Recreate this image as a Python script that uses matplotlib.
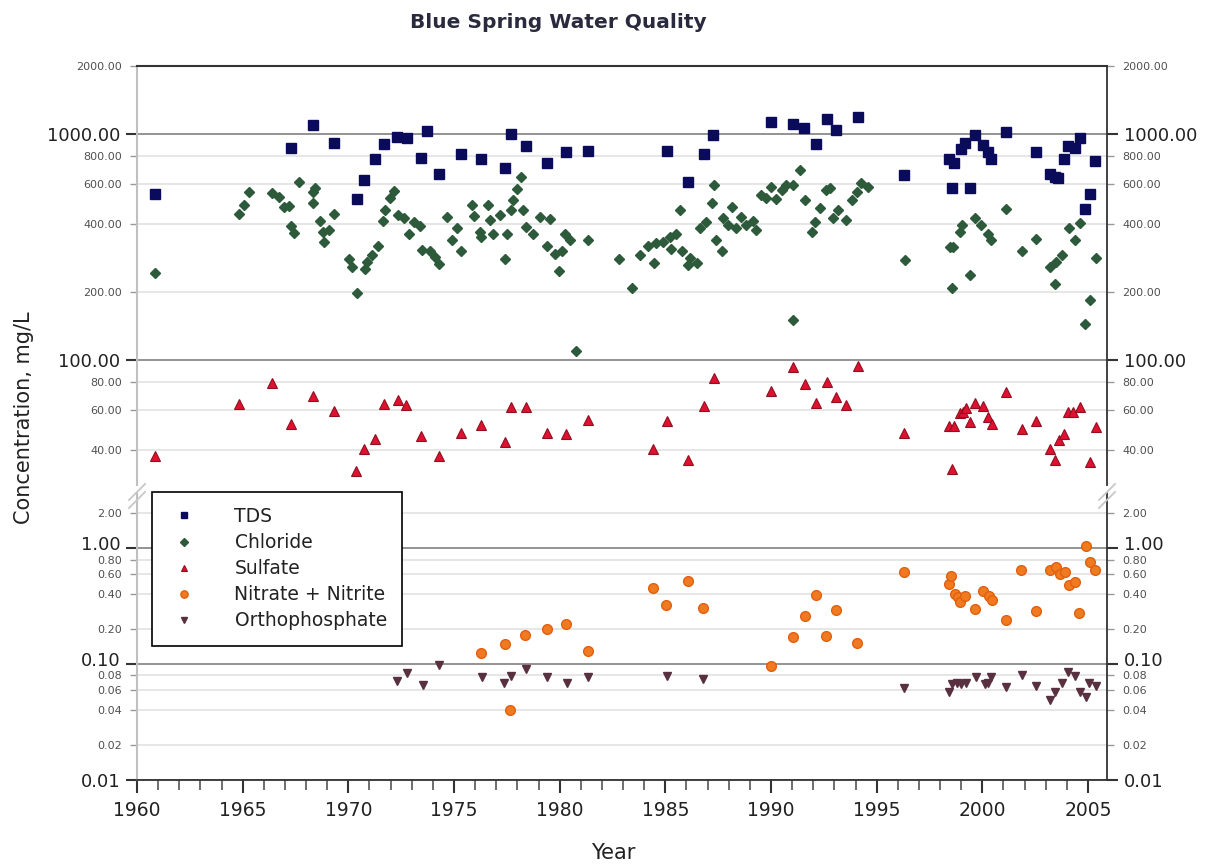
import matplotlib
matplotlib.use("Agg")
import matplotlib.pyplot as plt
import matplotlib.transforms as mtransforms
from matplotlib.ticker import FixedLocator, FuncFormatter, MultipleLocator, NullFormatter
from matplotlib.lines import Line2D

# ---- data (year, mg/L) ----
tds_year = [1960.84, 1967.28, 1968.33, 1969.30, 1970.40, 1970.75, 1971.27, 1971.67, 1972.30, 1972.77,
            1973.43, 1973.72, 1974.30, 1975.34, 1976.30, 1977.40, 1977.68, 1978.40, 1979.38, 1980.29,
            1981.32, 1985.09, 1986.08, 1986.81, 1987.26, 1989.99, 1991.05, 1991.57, 1992.12, 1992.65,
            1993.10, 1994.12, 1996.28, 1998.41, 1998.65, 1998.57, 1999.00, 1999.17, 1999.40, 1999.67,
            2000.03, 2000.27, 2000.43, 2001.14, 2002.53, 2003.22, 2003.43, 2003.58, 2003.85, 2004.05,
            2004.37, 2004.60, 2004.84, 2005.11, 2005.32]
tds_val = [541, 870, 1096, 915, 517, 624, 775, 900, 973, 963,
           786, 1034, 663, 813, 775, 705, 997, 888, 746, 835,
           841, 841, 613, 813, 990, 1133, 1107, 1060, 900, 1165,
           1041, 1185, 659, 773, 742, 575, 856, 910, 575, 990,
           894, 835, 775, 1024, 830, 663, 647, 636, 775, 885,
           870, 963, 464, 541, 762]

cl_year = [1960.84, 1964.81, 1965.08, 1965.31, 1966.39, 1966.70, 1966.94, 1967.17, 1967.28, 1967.44,
           1967.65, 1968.33, 1968.43, 1968.33, 1968.64, 1968.80, 1968.83, 1969.07, 1969.33, 1970.01,
           1970.17, 1970.41, 1970.77, 1970.88, 1971.12, 1971.39, 1971.64, 1971.75, 1971.98, 1972.17,
           1972.33, 1972.62, 1972.85, 1973.09, 1973.40, 1973.48, 1973.87, 1974.11, 1974.27, 1974.66,
           1974.90, 1975.14, 1975.34, 1975.83, 1975.94, 1976.23, 1976.30, 1976.62, 1976.70, 1976.85,
           1977.17, 1977.40, 1977.51, 1977.68, 1977.80, 1977.99, 1978.15, 1978.25, 1978.40, 1978.72,
           1979.06, 1979.38, 1979.54, 1979.77, 1979.96, 1980.09, 1980.25, 1980.49, 1980.77, 1981.35,
           1982.80, 1983.43, 1983.79, 1984.16, 1984.45, 1984.58, 1984.90, 1985.21, 1985.29, 1985.50,
           1985.69, 1985.81, 1986.08, 1986.16, 1986.50, 1986.63, 1986.92, 1987.21, 1987.29, 1987.42,
           1987.66, 1987.73, 1987.97, 1988.17, 1988.36, 1988.60, 1988.84, 1989.15, 1989.31, 1989.55,
           1989.78, 1990.02, 1990.26, 1990.50, 1990.73, 1991.04, 1991.36, 1991.60, 1991.92, 1992.07,
           1992.31, 1992.62, 1992.78, 1992.94, 1993.17, 1993.57, 1993.81, 1994.05, 1994.28, 1994.60,
           1991.04, 1996.33, 1998.46, 1998.61, 1998.57, 1998.93, 1999.06, 1999.40, 1999.64, 1999.95,
           2000.27, 2000.43, 2001.14, 2001.90, 2002.53, 2003.22, 2003.43, 2003.50, 2003.79, 2004.10,
           2004.37, 2004.60, 2005.11, 2004.88, 2005.36]
cl_val = [243, 443, 485, 555, 546, 525, 474, 480, 391, 366,
          615, 555, 575, 494, 413, 370, 334, 376, 443, 279,
          259, 197, 254, 272, 291, 320, 413, 461, 520, 561,
          438, 423, 362, 409, 391, 307, 303, 286, 266, 431,
          340, 382, 303, 485, 434, 370, 349, 485, 416, 362,
          438, 279, 362, 461, 510, 569, 643, 461, 389, 362,
          431, 320, 419, 295, 249, 303, 362, 340, 110, 340,
          279, 208, 291, 320, 268, 328, 334, 349, 310, 360,
          461, 305, 263, 282, 268, 382, 409, 494, 595, 340,
          303, 423, 396, 474, 382, 431, 396, 413, 376, 537,
          520, 585, 515, 565, 595, 595, 693, 510, 370, 409,
          469, 565, 575, 423, 461, 416, 510, 555, 605, 581,
          150, 277, 317, 317, 209, 370, 396, 238, 423, 396,
          362, 340, 464, 305, 343, 259, 218, 272, 291, 382,
          340, 402, 184, 144, 284]

so4_year = [1960.84, 1964.81, 1966.39, 1967.28, 1968.33, 1969.33, 1970.37, 1970.75, 1971.27, 1971.67,
            1972.33, 1972.74, 1973.43, 1974.30, 1975.34, 1976.30, 1977.40, 1977.68, 1978.40, 1979.38,
            1980.29, 1981.35, 1984.42, 1985.09, 1986.08, 1986.81, 1987.29, 1990.02, 1991.05, 1991.60,
            1992.12, 1992.65, 1993.10, 1993.57, 1994.12, 1996.30, 1998.41, 1998.57, 1998.65, 1998.93,
            1999.09, 1999.21, 1999.40, 1999.67, 2000.03, 2000.27, 2000.46, 2001.14, 2001.88, 2002.53,
            2003.22, 2003.45, 2003.61, 2003.85, 2004.05, 2004.29, 2004.60, 2005.11, 2005.36]
so4_val = [37.5, 64.2, 78.8, 52.3, 69.3, 59.4, 32.3, 40.6, 44.8, 64.2,
           66.9, 63.2, 46.2, 37.5, 47.8, 51.8, 43.5, 62.1, 61.7, 47.8,
           47.3, 54.2, 40.4, 53.8, 36.2, 62.5, 83.4, 72.6, 93.4, 78.0,
           64.6, 80.0, 68.4, 63.2, 94.4, 47.8, 51.0, 33.0, 51.0, 58.1,
           59.1, 61.2, 53.3, 64.6, 62.5, 56.0, 52.3, 72.2, 49.4, 53.8,
           40.4, 36.2, 44.2, 47.0, 58.8, 59.1, 62.1, 35.4, 50.7]

no3_year = [1976.30, 1977.40, 1977.64, 1978.35, 1979.38, 1980.28, 1981.35, 1984.42, 1985.05, 1986.08,
            1986.76, 1990.02, 1991.05, 1991.60, 1992.12, 1992.62, 1993.07, 1994.07, 1996.28, 1998.42,
            1998.53, 1998.69, 1998.85, 1998.93, 1999.17, 1999.67, 2000.03, 2000.31, 2000.47, 2001.14,
            2001.85, 2002.53, 2003.22, 2003.47, 2003.66, 2003.90, 2004.10, 2004.37, 2004.57, 2004.89,
            2005.08, 2005.32]
no3_val = [0.124, 0.148, 0.040, 0.180, 0.203, 0.220, 0.130, 0.458, 0.322, 0.523,
           0.306, 0.097, 0.172, 0.259, 0.394, 0.174, 0.296, 0.151, 0.625, 0.490,
           0.574, 0.401, 0.381, 0.345, 0.386, 0.302, 0.428, 0.386, 0.361, 0.240,
           0.646, 0.288, 0.655, 0.690, 0.605, 0.625, 0.480, 0.512, 0.279, 1.05,
           0.762, 0.646]

po4_year = [1972.31, 1972.76, 1973.55, 1974.30, 1976.33, 1977.37, 1977.69, 1978.40, 1979.38, 1980.33,
            1981.35, 1985.09, 1986.79, 1996.30, 1998.43, 1998.58, 1998.80, 1999.00, 1999.21, 1999.69,
            2000.11, 2000.27, 2000.43, 2001.14, 2001.90, 2002.53, 2003.22, 2003.43, 2003.79, 2004.05,
            2004.37, 2004.60, 2004.89, 2005.05, 2005.36]
po4_val = [0.0714, 0.0831, 0.066, 0.0983, 0.0775, 0.0683, 0.0786, 0.090, 0.0775, 0.0683,
           0.0775, 0.0786, 0.0740, 0.0618, 0.058, 0.0673, 0.0683, 0.0673, 0.0683, 0.0775,
           0.0673, 0.0683, 0.0775, 0.063, 0.0804, 0.065, 0.049, 0.058, 0.0683, 0.0859,
           0.0786, 0.058, 0.052, 0.0683, 0.065]

upper_major = [100, 1000]
upper_minor = [40, 60, 80, 200, 400, 600, 800, 2000]
lower_major = [0.01, 0.1, 1]
lower_minor = [0.02, 0.04, 0.06, 0.08, 0.2, 0.4, 0.6, 0.8, 2]

W, H = 1213, 867
fig = plt.figure(figsize=(W / 100, H / 100), dpi=100)
plt.rcParams['font.family'] = ['DejaVu Sans']

def fx(px):
    return px / W

def fy(py):
    return 1 - py / H

left, right = 137, 1107
ax1 = fig.add_axes([fx(left), fy(485), fx(right - left), fy(66) - fy(485)])
ax2 = fig.add_axes([fx(left), fy(780), fx(right - left), fy(493) - fy(780)], sharex=ax1)

fmt = FuncFormatter(lambda v, p: '%.2f' % v)
for ax, lim, maj, mnr in [(ax1, (28, 2000), upper_major, upper_minor),
                          (ax2, (0.01, 3), lower_major, lower_minor)]:
    ax.set_yscale('log')
    ax.set_ylim(*lim)
    ax.yaxis.set_major_locator(FixedLocator(maj))
    ax.yaxis.set_minor_locator(FixedLocator(mnr))
    ax.yaxis.set_major_formatter(fmt)
    ax.yaxis.set_minor_formatter(fmt)
    ax.tick_params(axis='y', which='major', labelsize=13, length=8, width=1.5,
                   color='#333333', left=True, right=True, labelleft=True, labelright=True,
                   labelcolor='#222222', pad=4)
    ax.tick_params(axis='y', which='minor', labelsize=8, length=5, width=1,
                   color='#999999', left=True, right=True, labelleft=True, labelright=True,
                   labelcolor='#505050', pad=6)
    ax.grid(True, which='major', axis='y', color='#8a8a8a', lw=1.3)
    ax.grid(True, which='minor', axis='y', color='#e2e2e2', lw=1.2)
    ax.set_axisbelow(True)
    ax.spines['left'].set_color('#c0c0c0')
    ax.spines['left'].set_linewidth(1.5)
    ax.spines['right'].set_color('#333333')
    ax.spines['right'].set_linewidth(1.3)

# lower panel major labels are drawn by hand, nudged up a little so the
# crowded 0.80 / 0.08 labels below them stay readable
ax2.yaxis.set_major_formatter(NullFormatter())
blend = mtransforms.blended_transform_factory(ax2.transAxes, ax2.transData)
for v in lower_major:
    dy = 0 if v == 0.01 else 4
    for xa, dx, ha in [(0, -12, 'right'), (1, 12, 'left')]:
        tr = blend + mtransforms.ScaledTranslation(dx / 72, dy / 72, fig.dpi_scale_trans)
        ax2.text(xa, v, '%.2f' % v, transform=tr, ha=ha, va='center_baseline',
                 fontsize=13, color='#222222', clip_on=False)

ax1.spines['bottom'].set_visible(False)
ax1.spines['top'].set_color('#333333')
ax1.spines['top'].set_linewidth(1.5)
ax2.spines['top'].set_visible(False)
ax2.spines['bottom'].set_color('#333333')
ax2.spines['bottom'].set_linewidth(1.3)

ax1.tick_params(axis='x', which='both', bottom=False, labelbottom=False)
ax2.set_xlim(1960, 2005.9)
ax2.xaxis.set_major_locator(MultipleLocator(5))
ax2.xaxis.set_minor_locator(MultipleLocator(1))
ax2.tick_params(axis='x', which='major', labelsize=13.5, length=9, width=1.5, color='#333333',
                labelcolor='#222222', pad=6)
ax2.tick_params(axis='x', which='minor', length=7, width=1.2, color='#555555')

ms = dict(ls='none', clip_on=False)
ax1.plot(tds_year, tds_val, marker='s', ms=6.5, color='#0b0b5c', label='TDS', **ms)
ax1.plot(cl_year, cl_val, marker='D', ms=5.5, color='#2e5a3c', label='Chloride', **ms)
ax1.plot(so4_year, so4_val, marker='^', ms=6.5, color='#e01030', mec='#901020', mew=0.8,
         label='Sulfate', **ms)
ax2.plot(no3_year, no3_val, marker='o', ms=7, color='#f07a20', mec='#e06010', label='Nitrate + Nitrite', **ms)
ax2.plot(po4_year, po4_val, marker='v', ms=6, color='#583040', label='Orthophosphate', **ms)

# break marks between the two panels
for xpx in (left, right):
    for yoff in (0, 8):
        fig.add_artist(Line2D([fx(xpx - 8), fx(xpx + 8)], [fy(500 + yoff), fy(484 + yoff)],
                              color='#c8c8c8', lw=1.3))

h1, l1 = ax1.get_legend_handles_labels()
h2, l2 = ax2.get_legend_handles_labels()
leg = fig.legend(h1 + h2, l1 + l2, loc='upper left', bbox_to_anchor=(fx(152), fy(492)),
                 borderaxespad=0, fontsize=13.5, frameon=True, fancybox=False, framealpha=1,
                 edgecolor='black', markerscale=0.75, handlelength=1.8, handletextpad=1.8,
                 labelspacing=0.38, borderpad=0.8)
leg.get_frame().set_linewidth(1.2)
for t in leg.get_texts():
    t.set_color('#222222')

fig.text(fx(558), fy(22), 'Blue Spring Water Quality', ha='center', va='center',
         fontsize=14.5, fontweight='bold', color='#2a2a3e')
fig.text(fx(613), fy(853), 'Year', ha='center', va='center', fontsize=15, color='#222222')
fig.text(fx(24), fy(418), 'Concentration, mg/L', ha='center', va='center', rotation=90,
         fontsize=15, color='#222222')

fig.savefig('out.png', dpi=100, facecolor='white')
